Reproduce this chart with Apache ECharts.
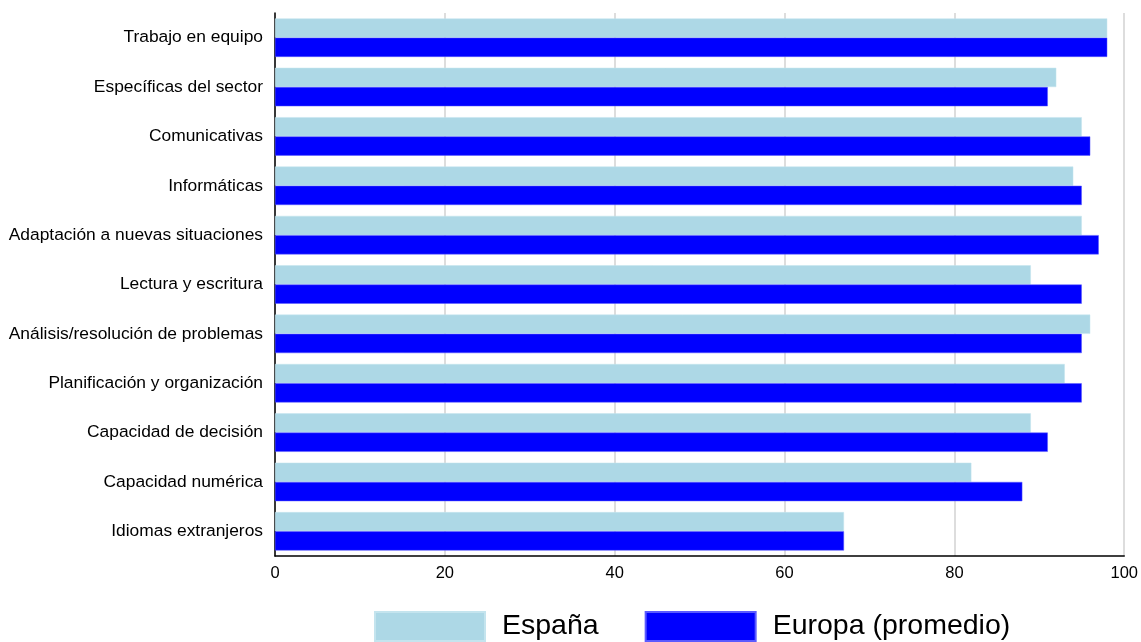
<!DOCTYPE html>
<html>
<head>
<meta charset="utf-8">
<script src="https://cdn.jsdelivr.net/npm/echarts@6/dist/echarts.min.js"></script>
<style>html,body{margin:0;padding:0;background:#fff}#c{width:1141px;height:642px}</style>
</head>
<body>
<div id="c"></div>
<script>
const categories = ["Trabajo en equipo","Específicas del sector","Comunicativas","Informáticas","Adaptación a nuevas situaciones","Lectura y escritura","Análisis/resolución de problemas","Planificación y organización","Capacidad de decisión","Capacidad numérica","Idiomas extranjeros"];
const espana = [98,92,95,94,95,89,96,93,89,82,67];
const europa = [98,91,96,95,97,95,95,95,91,88,67];
const seriesNames = ["España","Europa (promedio)"];

const chart = echarts.init(document.getElementById('c'));
const font = "'Liberation Sans', Arial, sans-serif";
chart.setOption({
  animation:false,
  textStyle:{fontFamily:font},
  grid:{left:275,right:16,top:13,bottom:86,containLabel:false},
  legend:{
    left:374, top:611, padding:0, itemWidth:110, itemHeight:29, itemGap:46,
    textStyle:{fontSize:28.5,color:'#000',fontFamily:font,lineHeight:29,padding:[0,0,0,12]},
    icon:'rect',
    data:seriesNames
  },
  xAxis:{
    type:'value',min:0,max:100,interval:20,
    axisLine:{show:true,lineStyle:{color:'#000',width:1.5}},
    axisTick:{show:false},
    axisLabel:{fontSize:16.5,color:'#000',margin:9,fontFamily:font},
    splitLine:{show:true,lineStyle:{color:'#dddddd',width:2}}
  },
  yAxis:{
    type:'category',data:categories,inverse:true,
    axisLine:{show:true,lineStyle:{color:'#000',width:1.5}},
    axisTick:{show:false},
    axisLabel:{fontSize:17.4,color:'#000',margin:12,fontFamily:font,padding:[4,0,0,0]},
    splitLine:{show:false}
  },
  series:[
    {name:seriesNames[0],type:'bar',data:espana,barGap:'0%',barCategoryGap:'22%',
     itemStyle:{color:'#add8e6',borderColor:'#c4e4ee',borderWidth:0.5}},
    {name:seriesNames[1],type:'bar',data:europa,barGap:'0%',barCategoryGap:'22%',
     itemStyle:{color:'#0000ff',borderColor:'#5a5aff',borderWidth:0.5}}
  ]
});
</script>
</body>
</html>
